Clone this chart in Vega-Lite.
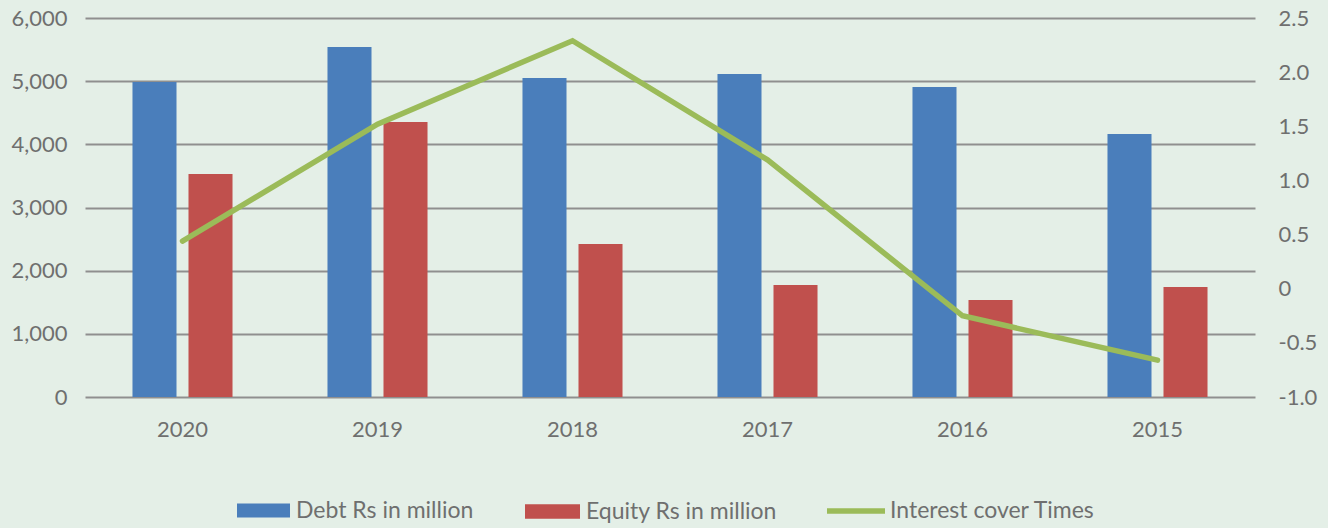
{
  "$schema": "https://vega.github.io/schema/vega-lite/v6.json",
  "width": 1170,
  "height": 379,
  "autosize": {"type": "none"},
  "padding": {"left": 85, "top": 18, "right": 73, "bottom": 131},
  "background": "#e4efe7",
  "config": {
    "view": {"stroke": null},
    "font": "Lato",
    "axis": {"labelFont": "Lato", "labelFontSize": 22, "labelColor": "#6f6f6f", "ticks": false, "domain": false},
    "legend": {"labelFont": "Lato", "labelFontSize": 23, "labelColor": "#6f6f6f", "labelLimit": 400}
  },
  "datasets": {
    "bars": [
      {"year": "2020", "series": "Debt Rs in million", "value": 4985},
      {"year": "2019", "series": "Debt Rs in million", "value": 5540},
      {"year": "2018", "series": "Debt Rs in million", "value": 5050},
      {"year": "2017", "series": "Debt Rs in million", "value": 5113},
      {"year": "2016", "series": "Debt Rs in million", "value": 4907},
      {"year": "2015", "series": "Debt Rs in million", "value": 4163},
      {"year": "2020", "series": "Equity Rs in million", "value": 3530},
      {"year": "2019", "series": "Equity Rs in million", "value": 4353},
      {"year": "2018", "series": "Equity Rs in million", "value": 2422},
      {"year": "2017", "series": "Equity Rs in million", "value": 1773},
      {"year": "2016", "series": "Equity Rs in million", "value": 1535},
      {"year": "2015", "series": "Equity Rs in million", "value": 1741}
    ],
    "cover": [
      {"year": "2020", "series": "Interest cover Times", "cover": 0.44},
      {"year": "2019", "series": "Interest cover Times", "cover": 1.52},
      {"year": "2018", "series": "Interest cover Times", "cover": 2.29},
      {"year": "2017", "series": "Interest cover Times", "cover": 1.19},
      {"year": "2016", "series": "Interest cover Times", "cover": -0.25},
      {"year": "2015", "series": "Interest cover Times", "cover": -0.66}
    ]
  },
  "encoding": {
    "x": {
      "field": "year", "type": "nominal", "sort": "descending", "title": null,
      "scale": {"paddingInner": 0.487, "paddingOuter": 0.2435},
      "axis": {"labelAngle": 0, "labelPadding": 22, "grid": false}
    }
  },
  "layer": [
    {
      "layer": [
        {
          "data": {"name": "bars"},
          "transform": [{"filter": "datum.series === 'Debt Rs in million'"}],
          "mark": {"type": "bar"},
          "encoding": {
            "xOffset": {"field": "series", "type": "nominal", "scale": {"domain": ["Debt Rs in million", "Equity Rs in million"], "paddingInner": 0.214, "paddingOuter": 0}},
            "y": {"field": "value", "type": "quantitative", "title": null,
              "scale": {"domain": [0, 6000]},
              "axis": {"orient": "left", "values": [0, 1000, 2000, 3000, 4000, 5000, 6000], "format": ",.0f", "grid": true, "gridColor": "#8f8f8f", "gridWidth": 2, "labelPadding": 18}},
            "fill": {"field": "series", "type": "nominal",
              "scale": {"domain": ["Debt Rs in million"], "range": ["#4a7ebb"]},
              "legend": {"title": null, "orient": "none", "legendX": 152, "legendY": 466, "symbolType": "M-1,-0.26H1V0.26H-1Z", "symbolSize": 2809, "symbolStrokeWidth": 0, "labelOffset": 6}}
          }
        },
        {
          "data": {"name": "bars"},
          "transform": [{"filter": "datum.series === 'Equity Rs in million'"}],
          "mark": {"type": "bar"},
          "encoding": {
            "xOffset": {"field": "series", "type": "nominal"},
            "y": {"field": "value", "type": "quantitative"},
            "color": {"field": "series", "type": "nominal",
              "scale": {"domain": ["Equity Rs in million"], "range": ["#c0504d"]},
              "legend": {"title": null, "orient": "none", "legendX": 440, "legendY": 466, "symbolType": "M-1,-0.26H1V0.26H-1Z", "symbolSize": 3025, "symbolStrokeWidth": 0, "labelOffset": 6}}
          }
        }
      ]
    },
    {
      "data": {"name": "cover"},
      "mark": {"type": "line", "strokeWidth": 5.5, "strokeCap": "round", "strokeJoin": "miter"},
      "encoding": {
        "y": {"field": "cover", "type": "quantitative", "title": null,
          "scale": {"domain": [-1, 2.5], "nice": false, "zero": false},
          "axis": {"orient": "right", "values": [-1, -0.5, 0, 0.5, 1, 1.5, 2, 2.5], "labelExpr": "datum.value === 0 ? '0' : replace(format(datum.value, '.1f'), '\u2212', '-')", "grid": false, "labelPadding": 23}},
        "stroke": {"field": "series", "type": "nominal",
          "scale": {"domain": ["Interest cover Times"], "range": ["#9bbb59"]},
          "legend": {"title": null, "orient": "none", "legendX": 739, "legendY": 461, "symbolType": "stroke", "symbolSize": 3364, "symbolStrokeWidth": 5.5, "labelOffset": 2}}
      }
    }
  ],
  "resolve": {"scale": {"y": "independent"}}
}
